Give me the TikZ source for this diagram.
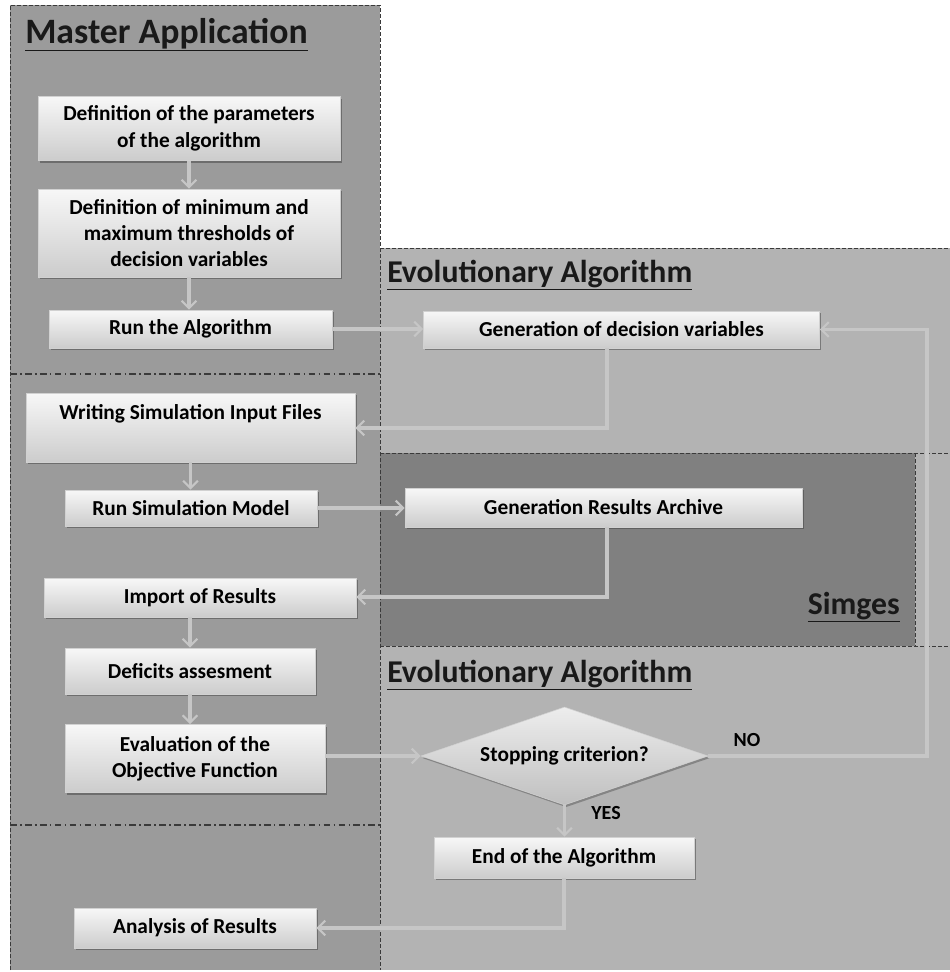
\documentclass[tikz,border=0pt]{standalone}
\usepackage{fontspec}
\setmainfont{Carlito}
\usetikzlibrary{shapes.geometric,arrows.meta,shadows}
\definecolor{mastergray}{HTML}{9B9B9B}
\definecolor{evogray}{HTML}{B3B3B3}
\definecolor{simgray}{HTML}{808080}
\definecolor{linegray}{HTML}{C6C6C6}
\definecolor{bordergray}{HTML}{3A3A3A}
\begin{document}
\begin{tikzpicture}[x=0.75pt,y=-0.75pt,
  box/.style={rectangle, draw=white!82!black, line width=0.4pt,
    top color=white!97!black, bottom color=white!80!black,
    font=\bfseries\fontsize{16}{19.8}\selectfont, align=center, inner sep=0pt,
    drop shadow={shadow xshift=1.2pt, shadow yshift=-1.6pt, opacity=0.5, fill=black!75}},
  decision/.style={diamond, aspect=2.93, draw=white!82!black, line width=0.4pt,
    top color=white!93!black, bottom color=white!75!black,
    font=\bfseries\fontsize{16}{19.8}\selectfont, align=center, inner sep=0pt,
    minimum width=215.25pt, minimum height=73.5pt,
    drop shadow={shadow xshift=1.2pt, shadow yshift=-1.6pt, opacity=0.4, fill=black!75}},
  flow/.style={draw=linegray, line width=2.4pt,
    -{Straight Barb[length=5.5pt,width=11pt,line width=1.7pt]}},
  panelline/.style={draw=bordergray, line width=0.6pt, dash pattern=on 3pt off 1.5pt},
  sepline/.style={draw=bordergray, line width=1.3pt, dash pattern=on 5pt off 2.5pt on 1.2pt off 2.5pt},
  paneltitle/.style={font=\bfseries\fontsize{23.8}{28}\selectfont, text=black!90, inner sep=0pt},
  answer/.style={font=\bfseries\fontsize{15}{18}\selectfont, inner sep=0pt}
]
\useasboundingbox (0,0) rectangle (950,972);
\fill[white] (0,0) rectangle (950,972);
% panels
\fill[mastergray] (10,5) rectangle (380,970);
\fill[evogray] (380,248) rectangle (950,970);
\fill[simgray] (380,453) rectangle (915,646);
\draw[panelline] (10,970) -- (10,5) -- (380,5) -- (380,970);
\draw[panelline] (380,248) -- (950,248);
\draw[panelline] (380,453) -- (950,453);
\draw[panelline] (380,646) -- (950,646);
\draw[panelline] (915,453) -- (915,646);
\draw[sepline] (10,374) -- (380,374);
\draw[sepline] (10,825) -- (380,825);
% titles
\node[paneltitle, font=\bfseries\fontsize{26.8}{30}\selectfont, anchor=base west] (tmaster) at (25,43) {\underline{Master Application}};
\node[paneltitle, anchor=base west] (tevo1) at (387,282) {\underline{Evolutionary Algorithm}};
\node[paneltitle, anchor=base west] (tevo2) at (387,682) {\underline{Evolutionary Algorithm}};
\node[paneltitle, anchor=base east] (tsim) at (900,614) {\underline{Simges}};
% nodes
\node[box, minimum width=226.5pt, minimum height=48pt] (def1) at (189,128.5) {Definition of the parameters\\of the algorithm};
\node[box, minimum width=226.5pt, minimum height=66pt] (def2) at (189,233) {Definition of minimum and\\maximum thresholds of\\decision variables};
\node[box, minimum width=212.25pt, minimum height=28.5pt] (run) at (190.5,329) {Run the Algorithm};
\node[box, minimum width=297pt, minimum height=27.75pt] (gen) at (621.5,329.5) {Generation of decision variables};
\node[box, minimum width=246.75pt, minimum height=51.75pt, text height=12pt, text depth=23.8pt] (write) at (190.5,427.5) {Writing Simulation Input Files};
\node[box, minimum width=189pt, minimum height=27pt] (runsim) at (191,508) {Run Simulation Model};
\node[box, minimum width=297.75pt, minimum height=29.25pt] (archive) at (603.5,507.5) {Generation Results Archive};
\node[box, minimum width=234pt, minimum height=29.25pt] (import) at (200,597.5) {Import of Results};
\node[box, minimum width=187.5pt, minimum height=34.5pt] (deficits) at (190,671) {Deficits assesment};
\node[box, minimum width=195pt, minimum height=51pt] (eval) at (195,758.5) {Evaluation of the\\Objective Function};
\node[decision] (stop) at (564.5,756) {Stopping criterion?};
\node[box, minimum width=195pt, minimum height=30.75pt] (endalg) at (564,857.5) {End of the Algorithm};
\node[box, minimum width=181.5pt, minimum height=30pt] (analysis) at (195,928) {Analysis of Results};
% connectors
\coordinate (c1) at (607,428);
\coordinate (c2) at (607,597);
\coordinate (c3) at (927,756);
\coordinate (c4) at (564,928);
\draw[flow] (def1.south) -- (def1.south |- def2.north);
\draw[flow] (def2.south) -- (def2.south |- run.north);
\draw[flow] (run.east) -- (run.east -| gen.west);
\draw[flow] (gen.south -| c1) -- (c1) -- (c1 -| write.east);
\draw[flow] (write.south) -- (write.south |- runsim.north);
\draw[flow] (runsim.east) -- (runsim.east -| archive.west);
\draw[flow] (archive.south -| c2) -- (c2) -- (c2 -| import.east);
\draw[flow] (deficits.north |- import.south) -- (deficits.north);
\draw[flow] (deficits.south) -- (deficits.south |- eval.north);
\draw[flow] (eval.east |- stop.west) -- (stop.west);
\draw[flow] (stop.east) -- (c3) -- (c3 |- gen.east) -- (gen.east);
\draw[flow] (stop.south) -- (stop.south |- endalg.north);
\draw[flow] (endalg.south -| c4) -- (c4) -- (c4 -| analysis.east);
\node[answer] (no) at (747,740) {NO};
\node[answer] (yes) at (606,813) {YES};
\end{tikzpicture}
\end{document}
